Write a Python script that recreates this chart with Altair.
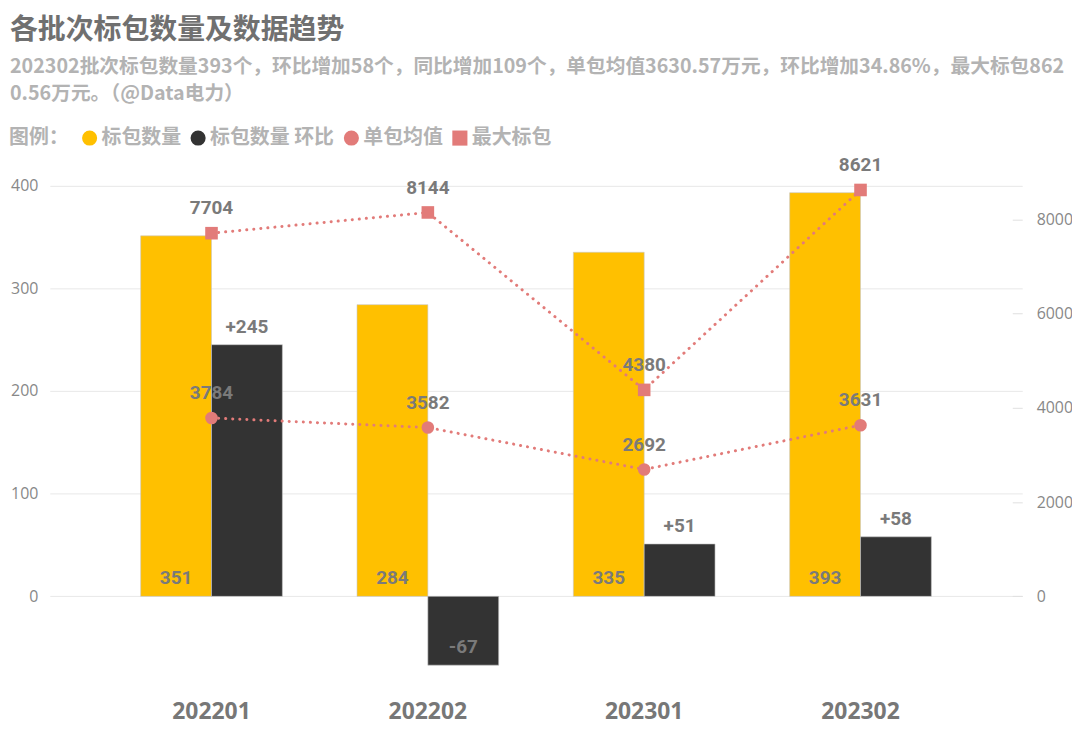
import altair as alt
import pandas as pd

# ---------------- data ----------------
batches = ["202201", "202202", "202301", "202302"]
count_vals = [351, 284, 335, 393]          # 标包数量
change_vals = [245, -67, 51, 58]           # 标包数量 环比
avg_vals = [3784, 3582, 2692, 3631]        # 单包均值 (万元)
max_vals = [7704, 8144, 4380, 8621]        # 最大标包 (万元)

S_COUNT = "标包数量"
S_CHG = "标包数量 环比"
S_AVG = "单包均值"
S_MAX = "最大标包"
series_names = [S_COUNT, S_CHG, S_AVG, S_MAX]
series_colors = ["#FFC000", "#333333", "#E27B79", "#E27B79"]
series_shapes = ["circle", "circle", "circle", "square"]

title_text = "各批次标包数量及数据趋势"
subtitle_lines = [
    "202302批次标包数量393个，环比增加58个，同比增加109个，单包均值3630.57万元，环比增加34.86%，最大标包862",
    "0.56万元。（@Data电力）",
]

# ---------------- tables ----------------
bar_rows = []
for b, c, d in zip(batches, count_vals, change_vals):
    bar_rows.append({"batch": b, "series": S_COUNT, "value": c, "label": f"{c}", "ly": 0})
    bar_rows.append({"batch": b, "series": S_CHG, "value": d, "label": f"{d:+d}", "ly": d})
bars_df = pd.DataFrame(bar_rows)

line_rows = []
for b, a, m in zip(batches, avg_vals, max_vals):
    line_rows.append({"batch": b, "series": S_AVG, "value": a})
    line_rows.append({"batch": b, "series": S_MAX, "value": m})
lines_df = pd.DataFrame(line_rows)

CJK = "Noto Sans CJK SC"
NUM = "Roboto, sans-serif"
AXF = "Open Sans, Noto Sans, sans-serif"
LABEL_GRAY = "#7a7a7a"
LEG_GRAY = "#b3b3b3"

color_scale = alt.Scale(domain=series_names, range=series_colors)
shape_scale = alt.Scale(domain=series_names, range=series_shapes)

x_axis = alt.Axis(
    title=None, labelAngle=0, labelFontSize=23, labelFontWeight="bold",
    labelColor="#777777", labelFont=AXF, ticks=False, domain=False,
    labelPadding=22, grid=False,
)
x_enc = alt.X(
    "batch:N", sort=batches,
    scale=alt.Scale(paddingInner=0.345, paddingOuter=0.42),
    axis=x_axis,
)
xoff_enc = alt.XOffset("series:N", sort=[S_COUNT, S_CHG],
                       scale=alt.Scale(paddingInner=0, paddingOuter=0))

left_scale = alt.Scale(domain=[-80, 420], nice=False, zero=False)
k = 21.79
right_scale = alt.Scale(domain=[-80 * k, 420 * k], nice=False, zero=False)

left_axis = alt.Axis(
    title=None, values=[0, 100, 200, 300, 400], format="d", grid=True,
    gridColor="#e8e8e8", gridWidth=1, ticks=False, domain=False,
    labelColor="#888888", labelFontSize=16, labelFont=AXF, labelPadding=12,
)
right_axis = alt.Axis(
    orient="right", title=None, values=[0, 2000, 4000, 6000, 8000], format="d",
    grid=False, domain=False, ticks=True, tickSize=10, tickColor="#e0e0e0",
    offset=-10, labelPadding=14, labelColor="#888888", labelFontSize=16,
    labelFont=AXF,
)

legend_title = "图例："

# ---------------- left (bars) ----------------
bars = alt.Chart(bars_df).mark_bar(stroke="#c8c8c8", strokeWidth=0.6).encode(
    x=x_enc,
    xOffset=xoff_enc,
    y=alt.Y("value:Q", scale=left_scale, axis=left_axis),
    color=alt.Color("series:N", scale=color_scale, title=legend_title),
)

bar_text = alt.Chart(bars_df).mark_text(
    dy=-18, baseline="middle", fontSize=19, fontWeight="bold", font=NUM,
    color=LABEL_GRAY,
).encode(
    x=x_enc,
    xOffset=xoff_enc,
    y=alt.Y("ly:Q", scale=left_scale, axis=left_axis),
    text="label:N",
)

left = alt.layer(bars, bar_text)

# ---------------- right (lines) ----------------
lines = alt.Chart(lines_df).mark_line(
    strokeDash=[0.1, 7], strokeWidth=3, strokeCap="round", color="#E27B79",
).encode(
    x=x_enc,
    y=alt.Y("value:Q", scale=right_scale, axis=right_axis),
    detail="series:N",
)

points = alt.Chart(lines_df).mark_point(filled=True, size=160, opacity=1).encode(
    x=x_enc,
    y=alt.Y("value:Q", scale=right_scale, axis=right_axis),
    color=alt.Color("series:N", scale=color_scale, title=legend_title),
    shape=alt.Shape("series:N", scale=shape_scale, title=legend_title),
)

line_text = alt.Chart(lines_df).mark_text(
    dy=-25, baseline="middle", fontSize=19, fontWeight="bold", font=NUM,
    color=LABEL_GRAY,
).encode(
    x=x_enc,
    y=alt.Y("value:Q", scale=right_scale, axis=right_axis),
    text=alt.Text("value:Q", format="d"),
)

right = alt.layer(lines, points, line_text)

chart = (
    alt.layer(left, right)
    .resolve_scale(y="independent")
    .properties(
        width=977,
        height=516,
        autosize=alt.AutoSizeParams(type="none"),
        padding={"left": 42, "top": 156, "right": 50, "bottom": 45},
        title=alt.Title(
            text=title_text,
            subtitle=subtitle_lines,
            anchor="start",
            frame="group",
            dx=-40,
            offset=24,
            font=CJK,
            fontSize=28,
            fontWeight="bold",
            color="#707070",
            subtitleFont=CJK,
            subtitleFontSize=19.8,
            subtitleFontWeight="bold",
            subtitleColor=LEG_GRAY,
            subtitleLineHeight=28,
            subtitlePadding=12,
        ),
    )
    .configure_view(stroke=None)
    .configure_legend(
        orient="none",
        legendX=-41,
        legendY=-37,
        direction="horizontal",
        titleOrient="left",
        titleFont=CJK,
        titleFontSize=20,
        titleFontWeight="bold",
        titleColor=LEG_GRAY,
        titlePadding=11,
        labelFont=CJK,
        labelFontSize=20,
        labelFontWeight="bold",
        labelColor=LEG_GRAY,
        labelOffset=2,
        columnPadding=7,
        symbolSize=230,
        symbolStrokeWidth=0,
        symbolOpacity=1,
    )
)

chart.save("out.html", embed_options={"renderer": "svg", "actions": False})
